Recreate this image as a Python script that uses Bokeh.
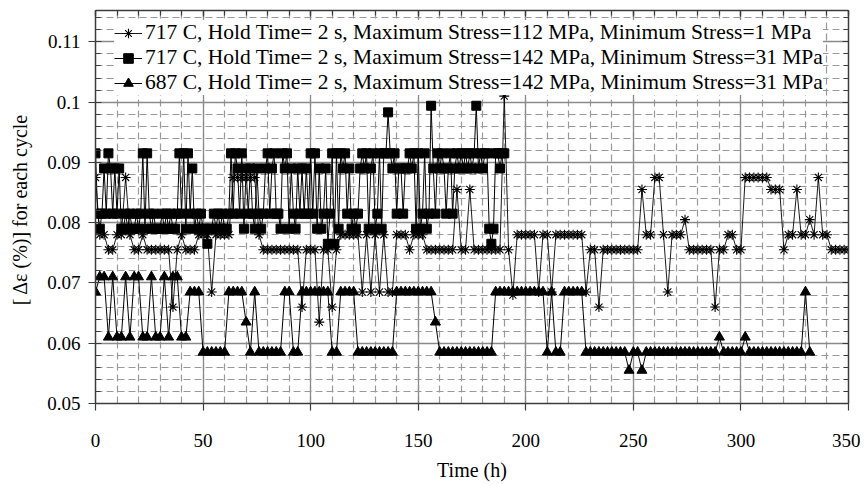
import numpy as np
from bokeh.plotting import figure
from bokeh.models import (LinearAxis, FixedTicker, CustomJSTickFormatter, Range1d,
                          Legend, LegendItem)
from bokeh.embed import file_html
from bokeh.resources import INLINE

# ---------------- data ----------------
series_labels = [
    "717 C, Hold Time= 2 s, Maximum Stress=112 MPa, Minimum Stress=1 MPa",
    "717 C, Hold Time= 2 s, Maximum Stress=142 MPa, Minimum Stress=31 MPa",
    "687 C, Hold Time= 2 s, Maximum Stress=142 MPa, Minimum Stress=31 MPa",
]

# 717 C, 112/1 MPa  (every 2 h, 0..350 h)
time_a = np.arange(0, 351, 2)
strain_a = [
    .0875, .078, .078, .0755, .0755, .078, .078, .0875, .078, .0755,
    .0755, .078, .0755, .0755, .0755, .0755, .0755, .0755, .066, .0755,
    .078, .0755, .0755, .0755, .078, .078, .078, .0685, .078, .078,
    .078, .078, .0875, .0875, .0875, .0875, .0875, .0875, .078, .0755,
    .0755, .0755, .0755, .0755, .0755, .0755, .0755, .0755, .066, .0755,
    .0755, .0755, .0635, .0755, .0755, .066, .0755, .078, .078, .078,
    .078, .078, .0685, .078, .0685, .078, .0685, .078, .0685, .0685,
    .078, .078, .078, .0755, .078, .078, .078, .0755, .0755, .0755,
    .0755, .0755, .0755, .0755, .0855, .0755, .0755, .0855, .0755, .0755,
    .0755, .0755, .0755, .0755, .0755, .101, .0755, .068, .078, .078,
    .078, .078, .078, .0685, .078, .078, .0685, .078, .078, .078,
    .078, .078, .078, .078, .0685, .0755, .0755, .066, .0755, .0755,
    .0755, .0755, .0755, .0755, .0755, .0755, .0755, .0855, .078, .078,
    .0875, .0875, .078, .0685, .078, .078, .078, .0805, .0755, .0755,
    .0755, .0755, .0755, .0755, .066, .0755, .0755, .078, .078, .0755,
    .0755, .0875, .0875, .0875, .0875, .0875, .0875, .0855, .0855, .0855,
    .0755, .078, .078, .0855, .078, .078, .0805, .078, .0875, .078,
    .078, .0755, .0755, .0755, .0755, .0755,
]

# 717 C, 142/31 MPa  (every 1 h, 0..190 h)
time_b = np.arange(0, 191, 1)
strain_b = [
    .0915, .0815, .079, .0815, .089, .0815, .0915, .089, .0815, .089,
    .0815, .089, .079, .079, .0815, .079, .0815, .079, .079, .0815,
    .079, .0815, .0915, .079, .0915, .0815, .079, .0815, .079, .079,
    .079, .0815, .079, .0815, .079, .0815, .079, .079, .0815, .0915,
    .0815, .0915, .079, .0915, .0815, .089, .079, .0815, .079, .0815,
    .079, .079, .0765, .079, .079, .0815, .079, .0815, .079, .0815,
    .079, .079, .0815, .0915, .0815, .0915, .089, .0815, .0915, .079,
    .089, .0815, .089, .0815, .079, .089, .0815, .079, .0815, .089,
    .0915, .0815, .089, .0915, .0815, .0815, .079, .0915, .089, .0915,
    .079, .089, .0815, .079, .089, .0815, .089, .0815, .089, .0815,
    .0915, .0815, .0915, .079, .089, .079, .0815, .089, .0765, .0815,
    .0915, .0765, .0915, .079, .0915, .089, .0915, .0815, .089, .079,
    .0815, .079, .0815, .089, .0915, .089, .0915, .079, .089, .0915,
    .079, .0815, .0915, .079, .0915, .0915, .0983, .0915, .089, .0915,
    .0815, .089, .089, .0815, .089, .089, .0915, .089, .0915, .079,
    .0915, .079, .0815, .0915, .079, .0815, .0994, .089, .0815, .0915,
    .089, .0915, .089, .0815, .089, .0915, .0815, .089, .0915, .089,
    .0915, .089, .0915, .089, .0915, .089, .0915, .0994, .089, .0915,
    .089, .0915, .0915, .079, .0765, .079, .0915, .0915, .089, .0915,
    .0915,
]

# 687 C, 142/31 MPa  (every 2 h, 0..332 h)
time_c = np.arange(0, 333, 2)
strain_c = [
    .0685, .071, .071, .061, .071, .061, .061, .071, .061, .071,
    .071, .061, .061, .071, .061, .061, .071, .061, .071, .071,
    .061, .061, .0685, .0685, .0685, .0585, .0585, .0585, .0585, .0585,
    .0585, .0685, .0685, .0685, .0685, .0635, .0585, .0685, .0585, .0585,
    .0585, .0585, .0585, .0585, .0685, .0685, .0585, .0585, .0685, .0685,
    .0685, .0685, .0685, .0685, .0685, .0585, .0585, .0685, .0685, .0685,
    .0685, .0585, .0585, .0585, .0585, .0585, .0585, .0585, .0585, .0585,
    .0685, .0685, .0685, .0685, .0685, .0685, .0685, .0685, .0685, .0635,
    .0585, .0585, .0585, .0585, .0585, .0585, .0585, .0585, .0585, .0585,
    .0585, .0585, .0585, .0685, .0685, .0685, .0685, .0685, .0685, .0685,
    .0685, .0685, .0685, .0685, .0685, .0585, .0685, .0585, .0585, .0685,
    .0685, .0685, .0685, .0685, .0585, .0585, .0585, .0585, .0585, .0585,
    .0585, .0585, .0585, .0585, .0555, .0585, .0585, .0555, .0585, .0585,
    .0585, .0585, .0585, .0585, .0585, .0585, .0585, .0585, .0585, .0585,
    .0585, .0585, .0585, .0585, .0585, .061, .0585, .0585, .0585, .0585,
    .0585, .061, .0585, .0585, .0585, .0585, .0585, .0585, .0585, .0585,
    .0585, .0585, .0585, .0585, .0585, .0685, .0585,
]

x_ticks = [0, 50, 100, 150, 200, 250, 300, 350]
y_ticks = [0.05, 0.06, 0.07, 0.08, 0.09, 0.1, 0.11]
y_tick_labels = ["0.05", "0.06", "0.07", "0.08", "0.09", "0.1", "0.11"]

# ---------------- figure ----------------
FONT = "Liberation Serif"
SERIF = "serif"
AX = "#3c3c3c"

p = figure(frame_width=753, frame_height=393, output_backend="svg",
           toolbar_location=None,
           x_range=Range1d(0, 350), y_range=Range1d(0.05, 0.1152),
           min_border_left=95, min_border_top=10, min_border_right=12,
           min_border_bottom=10, background_fill_color="white",
           border_fill_color="white", outline_line_color=None)

x_minor = [v for v in range(0, 351, 10)]
y_minor = [round(0.05 + 0.002 * i, 4) for i in range(0, 33)]
xt = FixedTicker(ticks=x_ticks, minor_ticks=x_minor)
yt = FixedTicker(ticks=y_ticks, minor_ticks=y_minor)
yfmt = CustomJSTickFormatter(args=dict(vals=y_ticks, labs=y_tick_labels), code="""
let best = 0;
for (let i = 0; i < vals.length; i++) {
  if (Math.abs(vals[i] - tick) < Math.abs(vals[best] - tick)) best = i;
}
return labs[best];
""")
empty = CustomJSTickFormatter(code="return '';")

bx = p.below[0]
bx.ticker = xt
bx.axis_label = "Time (h)"
bx.major_tick_out = 7
bx.major_tick_in = 0
bx.minor_tick_out = 0
bx.minor_tick_in = 0
bx.major_label_standoff = 23
bx.axis_label_standoff = 9

ly = p.left[0]
ly.ticker = yt
ly.formatter = yfmt
ly.axis_label = "[ Δε  (%)] for each cycle"
ly.major_tick_out = 7
ly.major_tick_in = 6
ly.minor_tick_out = 0
ly.minor_tick_in = 5
ly.major_label_standoff = 8
ly.axis_label_standoff = 13

top = LinearAxis(ticker=xt, formatter=empty, major_tick_out=0, major_tick_in=6,
                 minor_tick_out=0, minor_tick_in=5, major_label_standoff=0,
                 major_label_text_font_size="1px")
right = LinearAxis(ticker=yt, formatter=empty, major_tick_out=0, major_tick_in=6,
                   minor_tick_out=0, minor_tick_in=5, major_label_standoff=0,
                   major_label_text_font_size="1px")
p.add_layout(top, "above")
p.add_layout(right, "right")

for ax in (bx, ly, top, right):
    ax.axis_line_color = AX
    ax.axis_line_width = 1.5
    ax.major_tick_line_color = AX
    ax.minor_tick_line_color = AX
    ax.major_tick_line_width = 1.2
    ax.minor_tick_line_width = 1.2
    ax.major_label_text_color = "black"
    ax.major_label_text_font = SERIF
    ax.major_label_text_font_style = "normal"
    ax.axis_label_text_font = FONT
    ax.axis_label_text_font_style = "normal"
    ax.axis_label_text_color = "black"
for ax in (bx, ly):
    ax.major_label_text_font_size = "19px"
    ax.axis_label_text_font_size = "20px"

p.xgrid.ticker = xt
p.ygrid.ticker = yt
for g in (p.xgrid, p.ygrid):
    g.grid_line_color = "#8a8a8a"
    g.grid_line_width = 1.3
    g.minor_grid_line_color = "#999999"
    g.minor_grid_line_width = 1.2
    g.minor_grid_line_dash = "7 4"

# ---------------- series ----------------
la = p.line(time_a, strain_a, line_color="black", line_width=0.9)
sa = p.scatter(time_a, strain_a, marker="asterisk", size=10,
               line_color="black", line_width=1.1)
lb = p.line(time_b, strain_b, line_color="black", line_width=1.0)
sb = p.scatter(time_b, strain_b, marker="square", size=9,
               line_color="black", fill_color="black")
lc = p.line(time_c, strain_c, line_color="black", line_width=1.0)
sc = p.scatter(time_c, strain_c, marker="triangle", size=10,
               line_color="black", fill_color="black")

legend = Legend(items=[
    LegendItem(label=series_labels[0], renderers=[la, sa]),
    LegendItem(label=series_labels[1], renderers=[lb, sb]),
    LegendItem(label=series_labels[2], renderers=[lc, sc]),
], location=(19, 308))
legend.padding = 5
legend.margin = 0
legend.spacing = 0
legend.glyph_width = 28
legend.glyph_height = 24
legend.label_height = 24
legend.label_standoff = 3
legend.label_text_font = SERIF
legend.label_text_font_style = "normal"
legend.label_text_font_size = "21.5px"
legend.label_text_color = "black"
legend.border_line_color = None
legend.background_fill_color = "white"
legend.background_fill_alpha = 1.0
p.add_layout(legend)

open("out.html", "w").write(file_html(p, INLINE))
